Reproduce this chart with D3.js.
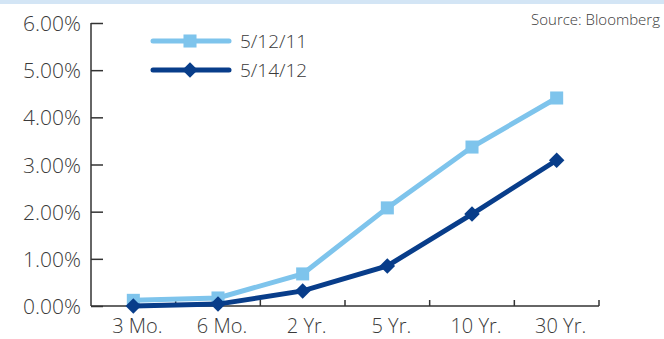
<!DOCTYPE html>
<html>
<head>
<meta charset="utf-8">
<script src="https://cdn.jsdelivr.net/npm/d3@7"></script>
<style>
  body { margin: 0; background: #fff; }
  text { font-family: "Open Sans", "Noto Sans", sans-serif; fill: #3a3a3a; font-weight: 300; }
</style>
</head>
<body>
<script>

let categories = ["3 Mo.", "6 Mo.", "2 Yr.", "5 Yr.", "10 Yr.", "30 Yr."];
let yields2011 = [0.12, 0.17, 0.68, 2.08, 3.37, 4.41];
let yields2012 = [0.00, 0.04, 0.32, 0.85, 1.95, 3.09];
let seriesNames = ["5/12/11", "5/14/12"];
let yTicks = [0, 1, 2, 3, 4, 5, 6];

let lightBlue = "#7ec4ec";
let darkBlue = "#083d8a";

let svg = d3.select("body").append("svg")
    .attr("width", 664)
    .attr("height", 339);

// band along the top
svg.append("rect").attr("x", 0).attr("y", 0).attr("width", 664).attr("height", 4)
    .attr("fill", "#d3e5f5");

svg.append("text").text("Source: Bloomberg")
    .attr("x", 660).attr("y", 25)
    .attr("text-anchor", "end")
    .style("font-size", "15px");

let x = d3.scaleBand().domain(categories).range([91, 599]);
let y = d3.scaleLinear().domain([0, 6]).range([306, 23]);

// y axis
let yAxis = svg.append("g").attr("transform", "translate(91,0)")
    .call(d3.axisRight(y).tickValues(yTicks).tickSize(12).tickFormat(function (d) { return d3.format(".2f")(d) + "%"; }));
yAxis.select(".domain").attr("stroke", "#333").attr("stroke-width", 1.5).attr("d", "M0,23V306");
yAxis.selectAll(".tick line").attr("stroke", "#333").attr("stroke-width", 1.5);
yAxis.selectAll(".tick text")
    .attr("x", -10).attr("text-anchor", "end").attr("dy", "0.36em")
    .style("font-size", "21px").attr("fill", "#3a3a3a");

// x axis - ticks between categories
let xAxis = svg.append("g").attr("transform", "translate(0,306)");
xAxis.append("line").attr("x1", 91).attr("x2", 599).attr("y1", 0).attr("y2", 0)
    .attr("stroke", "#333").attr("stroke-width", 1.5);
xAxis.selectAll("line.tk").data(categories).enter().append("line")
    .attr("class", "tk")
    .attr("x1", function (d) { return x(d) + x.bandwidth(); })
    .attr("x2", function (d) { return x(d) + x.bandwidth(); })
    .attr("y1", 0).attr("y2", -6)
    .attr("stroke", "#333").attr("stroke-width", 1.5);
xAxis.selectAll("text").data(categories).enter().append("text")
    .text(function (d) { return d; })
    .attr("x", function (d) { return x(d) + x.bandwidth() / 2 + 4; })
    .attr("y", 27)
    .attr("text-anchor", "middle")
    .style("font-size", "20px");

let cx = function (d, i) { return x(categories[i]) + x.bandwidth() / 2; };
let line = d3.line().x(function (d, i) { return cx(d, i); }).y(function (d) { return y(d); });

let series = [
    { name: seriesNames[0], values: yields2011, color: lightBlue, symbol: d3.symbolSquare, size: 170, rot: 0 },
    { name: seriesNames[1], values: yields2012, color: darkBlue, symbol: d3.symbolSquare, size: 120, rot: 45 }
];

series.forEach(function (s) {
    svg.append("path").datum(s.values)
        .attr("d", line)
        .attr("fill", "none")
        .attr("stroke", s.color)
        .attr("stroke-width", 5);
    svg.append("g").selectAll("path").data(s.values).enter().append("path")
        .attr("d", d3.symbol().type(s.symbol).size(s.size))
        .attr("transform", function (d, i) { return "translate(" + cx(d, i) + "," + y(d) + ") rotate(" + s.rot + ")"; })
        .attr("fill", s.color);
});

// legend
let legend = svg.append("g");
series.forEach(function (s, i) {
    let ly = 41 + i * 29;
    legend.append("line").attr("x1", 153).attr("x2", 229).attr("y1", ly).attr("y2", ly)
        .attr("stroke", s.color).attr("stroke-width", 5).attr("stroke-linecap", "round");
    legend.append("path").attr("d", d3.symbol().type(s.symbol).size(s.size))
        .attr("transform", "translate(190," + ly + ") rotate(" + s.rot + ")")
        .attr("fill", s.color);
    legend.append("text").text(s.name)
        .attr("x", 240).attr("y", ly).attr("dy", "0.36em")
        .style("font-size", "19px");
});

</script>
</body>
</html>
